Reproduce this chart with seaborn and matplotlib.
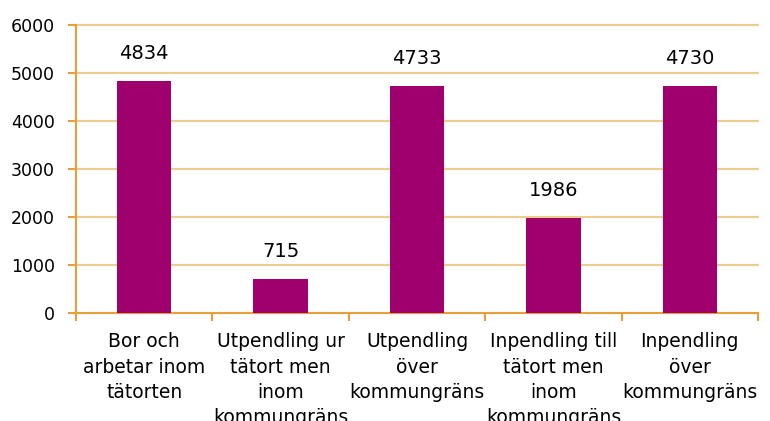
import matplotlib
matplotlib.use('Agg')
import matplotlib.pyplot as plt
import seaborn as sns
import numpy as np

# Data
categories = ['Bor och\narbetar inom\ntätorten',
              'Utpendling ur\ntätort men\ninom\nkommungräns',
              'Utpendling\növer\nkommungräns',
              'Inpendling till\ntätort men\ninom\nkommungräns',
              'Inpendling\növer\nkommungräns']
values = [4834, 715, 4733, 1986, 4730]

bar_color = '#A0006E'
axis_color = '#E6A03A'
grid_color = '#EECC8E'

sns.set_style('white')
plt.rcParams['font.family'] = ['DejaVu Sans']
plt.rcParams['text.color'] = 'black'

fig = plt.figure(figsize=(7.7, 4.21), dpi=100)
ax = fig.add_axes([76 / 770, 1 - 313 / 421, (758 - 76) / 770, (313 - 25) / 421])

sns.barplot(x=categories, y=values, color=bar_color, saturation=1, width=0.4,
            linewidth=0, ax=ax, zorder=3)

# labels above the bars
ax.bar_label(ax.containers[0], labels=[str(v) for v in values], padding=13, fontsize=14, color='black')

ax.set_ylim(0, 6000)
ax.set_xlim(-0.5, 4.5)
ax.set_yticks(np.arange(0, 6001, 1000))
ax.yaxis.grid(True, color=grid_color, linewidth=1.5, zorder=0)
ax.xaxis.grid(False)
for gl in ax.get_ygridlines():
    gl.set_clip_on(False)

for s in ['top', 'right']:
    ax.spines[s].set_visible(False)
for s in ['left', 'bottom']:
    ax.spines[s].set_color(axis_color)
    ax.spines[s].set_linewidth(1.5)

# ticks between the categories
ax.set_xticks(np.arange(-0.5, 5, 1), minor=True)
ax.tick_params(axis='x', which='minor', length=6, width=1.5, color=axis_color, direction='out', bottom=True)
ax.tick_params(axis='x', which='major', length=0, pad=14, labelsize=13.5, labelcolor='black')
ax.tick_params(axis='y', length=6, width=1.5, color=axis_color, direction='out', left=True,
               labelsize=12.5, pad=9, labelcolor='black')
for t in ax.get_xticklabels():
    t.set_linespacing(1.42)

ax.set_xlabel('')
ax.set_ylabel('')

fig.savefig('out.png', dpi=100)
